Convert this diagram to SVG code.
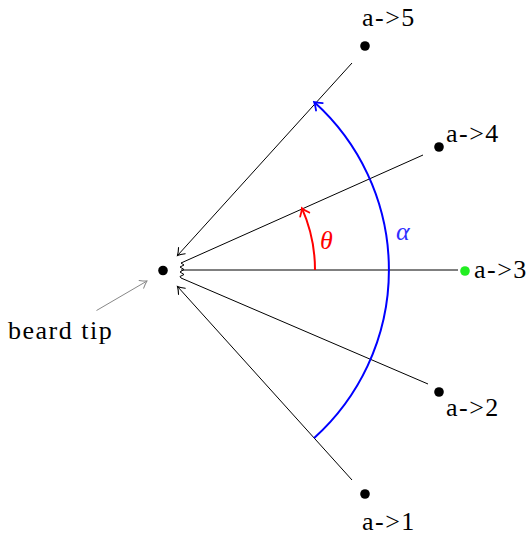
<svg xmlns="http://www.w3.org/2000/svg" width="532" height="536" viewBox="0 0 532 536">
<style>
text{font-family:'Liberation Serif','DejaVu Serif','Times New Roman',serif;font-size:26px;fill:#000}
.lb{letter-spacing:1.5px}
.ln{stroke:#000;stroke-width:1;fill:none}
.dot{fill:#000}
</style>
<defs>
<marker id="ak" markerUnits="userSpaceOnUse" viewBox="-10 -6 12 12" markerWidth="12" markerHeight="12" refX="0" refY="0" orient="auto">
<path d="M-6.5,-4.5 Q-2.5,-1.2 0,0 Q-2.5,1.2 -6.5,4.5" fill="none" stroke="#000" stroke-width="1.1" stroke-linecap="round"/>
</marker>
<marker id="ag" markerUnits="userSpaceOnUse" viewBox="-10 -6 12 12" markerWidth="12" markerHeight="12" refX="0" refY="0" orient="auto">
<path d="M-6.5,-4.5 Q-2.5,-1.2 0,0 Q-2.5,1.2 -6.5,4.5" fill="none" stroke="#888" stroke-width="1" stroke-linecap="round"/>
</marker>
<marker id="ab" markerUnits="userSpaceOnUse" viewBox="-10 -7 12 14" markerWidth="12" markerHeight="14" refX="0" refY="0" orient="auto">
<path d="M-7,-5 Q-2.5,-1.3 0,0 Q-2.5,1.3 -7,5" fill="none" stroke="#0000ff" stroke-width="1.8" stroke-linecap="round"/>
</marker>
<marker id="ar" markerUnits="userSpaceOnUse" viewBox="-10 -7 12 14" markerWidth="12" markerHeight="14" refX="0" refY="0" orient="auto">
<path d="M-7,-5 Q-2.5,-1.3 0,0 Q-2.5,1.3 -7,5" fill="none" stroke="#ff0000" stroke-width="1.8" stroke-linecap="round"/>
</marker>
</defs>
<g id="connectors">
<line class="ln" x1="352" y1="63" x2="177.5" y2="255.5" marker-end="url(#ak)"/>
<line class="ln" x1="423" y1="155" x2="181" y2="263"/>
<line class="ln" x1="458" y1="270" x2="181" y2="270"/>
<line class="ln" x1="428" y1="384" x2="181" y2="278"/>
<line class="ln" x1="352" y1="480" x2="177.5" y2="286.5" marker-end="url(#ak)"/>
<polyline class="ln" points="181,263 184,265 180,267 184,269.5 180,272 184,274.5 180,276.5 181,278"/>
<path d="M96.5,310.5 L147,281" stroke="#888" stroke-width="1" fill="none" marker-end="url(#ag)"/>
<path d="M314.2,437.9 A226,226 0 0 0 314.2,102.1" stroke="#0000ff" stroke-width="2" fill="none" marker-end="url(#ab)"/>
<path d="M315,270 A152,152 0 0 0 301.9,208.2" stroke="#ff0000" stroke-width="2" fill="none" marker-end="url(#ar)"/>
</g>
<g id="a"><circle class="dot" cx="163" cy="270.5" r="4.8"/></g>
<g id="a5"><circle class="dot" cx="365" cy="46" r="4.8"/><text class="lb" x="362" y="26">a-&gt;5</text></g>
<g id="a4"><circle class="dot" cx="439" cy="147" r="4.8"/><text class="lb" x="446" y="142">a-&gt;4</text></g>
<g id="a3"><circle cx="465" cy="271" r="4.8" fill="#22ee22"/><text class="lb" x="474" y="278">a-&gt;3</text></g>
<g id="a2"><circle class="dot" cx="439" cy="392" r="4.8"/><text class="lb" x="446" y="416">a-&gt;2</text></g>
<g id="a1"><circle class="dot" cx="365" cy="494" r="4.8"/><text class="lb" x="362" y="530">a-&gt;1</text></g>
<g id="beard"><text class="lb" x="8" y="339">beard tip</text></g>
<g id="theta"><text x="320" y="249" font-style="italic" style="fill:#ff0000">θ</text></g>
<g id="alpha"><text x="396" y="240" font-style="italic" style="fill:#3030ff">α</text></g>
</svg>
